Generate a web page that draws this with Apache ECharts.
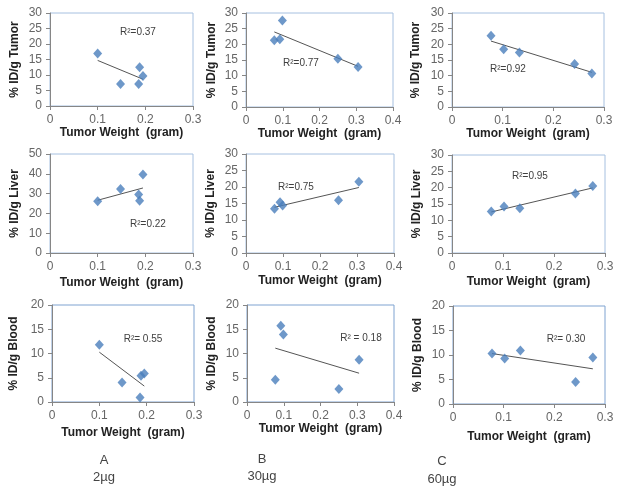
<!DOCTYPE html>
<html><head><meta charset="utf-8">
<script src="https://cdn.jsdelivr.net/npm/echarts@6/dist/echarts.min.js"></script>
<style>html,body{margin:0;padding:0;background:#fff}#c{width:624px;height:494px}</style>
</head><body><div id="c"></div>
<script>
// Tumor weights (gram) per dose group
const weightA = [0.100, 0.148, 0.186, 0.188, 0.195];
const weightB = [0.077, 0.092, 0.099, 0.250, 0.305];
const weightC = [0.077, 0.102, 0.133, 0.242, 0.276];
// %ID/g values
const tumorA = [16.9, 7.1, 7.1, 12.5, 9.7];
const tumorB = [21.3, 21.6, 27.6, 15.4, 12.8];
const tumorC = [22.7, 18.4, 17.4, 13.7, 10.7];
const liverA = [26.1, 32.3, 29.5, 26.4, 39.6];
const liverB = [13.4, 15.4, 14.4, 16.0, 21.6];
const liverC = [12.7, 14.2, 13.7, 18.2, 20.5];
const bloodA = [11.8, 4.0, 0.95, 5.4, 5.9];
const bloodB = [4.6, 15.7, 13.9, 2.7, 8.7];
const bloodC = [10.3, 9.3, 10.9, 4.5, 9.5];
// R² labels
const r2Tumor = ['R\u00b2=0.37', 'R\u00b2=0.77', 'R\u00b2=0.92'];
const r2Liver = ['R\u00b2=0.22', 'R\u00b2=0.75', 'R\u00b2=0.95'];
const r2Blood = ['R\u00b2= 0.55', 'R\u00b2 = 0.18', 'R\u00b2= 0.30'];
// Axis settings
const yTitles = ['% ID/g Tumor', '% ID/g Liver', '% ID/g Blood'];
const xTitle = 'Tumor Weight  (gram)';
const xMaxByCol = [0.3, 0.4, 0.3];
const yMaxByPanel = [[30, 30, 30], [50, 30, 30], [20, 20, 20]];
const yStepByPanel = [[5, 5, 5], [10, 5, 5], [5, 5, 5]];
const groupLetters = ['A', 'B', 'C'];
const groupDoses = ['2\u00b5g', '30\u00b5g', '60\u00b5g'];

const weights = [weightA, weightB, weightC];
const values = [[tumorA, tumorB, tumorC], [liverA, liverB, liverC], [bloodA, bloodB, bloodC]];
const r2 = [r2Tumor, r2Liver, r2Blood];

// layout (pixels)
const layout = [
  [{l:50,t:13,w:143,h:93,gy:29,gx:21,lx:138,ly:32},{l:246,t:13,w:147,h:94,gy:28,gx:21,lx:301,ly:63},{l:452,t:13,w:152,h:94,gy:30,gx:21,lx:508,ly:69}],
  [{l:50,t:154,w:143,h:99,gy:29,gx:24,lx:148,ly:224},{l:246,t:154,w:148,h:99,gy:29,gx:22,lx:296,ly:187},{l:452,t:155,w:153,h:98,gy:29,gx:23,lx:530,ly:176}],
  [{l:52,t:305,w:142,h:97,gy:32,gx:25,lx:143,ly:339},{l:247,t:305,w:147,h:97,gy:29,gx:20,lx:361,ly:338},{l:453,t:306,w:152,h:98,gy:29,gx:27,lx:566,ly:339}]
];

function regression(xs, ys) {
  const n = xs.length;
  const mx = xs.reduce((a,b)=>a+b,0)/n, my = ys.reduce((a,b)=>a+b,0)/n;
  let sxy=0, sxx=0;
  for (let i=0;i<n;i++){ sxy+=(xs[i]-mx)*(ys[i]-my); sxx+=(xs[i]-mx)*(xs[i]-mx); }
  const b = sxy/sxx, a = my - b*mx;
  const x0 = Math.min(...xs), x1 = Math.max(...xs);
  return [[x0, a+b*x0],[x1, a+b*x1]];
}

const grid=[], xAxis=[], yAxis=[], series=[], graphic=[];
const tickFont = {fontFamily:'Liberation Sans, Arial, sans-serif', fontSize:12, color:'#666'};
for (let r=0;r<3;r++) for (let c=0;c<3;c++) {
  const L = layout[r][c], idx = r*3+c;
  grid.push({left:L.l, top:L.t, width:L.w, height:L.h, show:true, borderColor: r===2 ? '#7fa3d1' : '#a6c0e0', borderWidth:1, backgroundColor:'#fff'});
  xAxis.push({type:'value', gridIndex:idx, min:0, max:xMaxByCol[c], interval:0.1,
    axisLine:{show:true, lineStyle:{color:'#868686'}}, axisTick:{show:true, length:4, lineStyle:{color:'#868686'}},
    splitLine:{show:false}, axisLabel:Object.assign({margin:8, formatter: v => String(Math.round(v*10)/10)}, tickFont),
    name:xTitle, nameLocation:'middle', nameGap:L.gx,
    nameTextStyle:{fontFamily:'Liberation Sans, Arial, sans-serif', fontWeight:'bold', fontSize:12, color:'#222'}});
  yAxis.push({type:'value', gridIndex:idx, min:0, max:yMaxByPanel[r][c], interval:yStepByPanel[r][c],
    axisLine:{show:true, lineStyle:{color:'#868686'}}, axisTick:{show:true, length:4, lineStyle:{color:'#868686'}},
    splitLine:{show:false}, axisLabel:Object.assign({margin:8}, tickFont),
    name:yTitles[r], nameLocation:'middle', nameGap:L.gy, nameRotate:90,
    nameTextStyle:{fontFamily:'Liberation Sans, Arial, sans-serif', fontWeight:'bold', fontSize:12, color:'#222'}});
  const xs = weights[c], ys = values[r][c];
  series.push({type:'line', xAxisIndex:idx, yAxisIndex:idx, data:regression(xs, ys), symbol:'none', silent:true,
    lineStyle:{color:'#555', width:1}, z:2});
  series.push({type:'scatter', xAxisIndex:idx, yAxisIndex:idx, data:xs.map((x,i)=>[x, ys[i]]), symbol:'diamond',
    symbolSize:[9,10], itemStyle:{color:'#4a7ebb'}, z:3});
  graphic.push({type:'text', x:L.lx, y:L.ly, style:{text:r2[r][c], font:'10px Liberation Sans, Arial, sans-serif', fill:'#404040', align:'center', verticalAlign:'middle'}, z:10});
}
const groupX = [104, 262, 442];
const letterY = [460, 459, 461];
const doseY = [477, 476, 479];
for (let c=0;c<3;c++) {
  graphic.push({type:'text', x:groupX[c], y:letterY[c], style:{text:groupLetters[c], font:'13px Liberation Sans, Arial, sans-serif', fill:'#444', align:'center', verticalAlign:'middle'}});
  graphic.push({type:'text', x:groupX[c], y:doseY[c], style:{text:groupDoses[c], font:'13px Liberation Sans, Arial, sans-serif', fill:'#444', align:'center', verticalAlign:'middle'}});
}

const chart = echarts.init(document.getElementById('c'), null, {renderer:'canvas'});
chart.setOption({animation:false, backgroundColor:'#fff', grid, xAxis, yAxis, series, graphic});
</script></body></html>
